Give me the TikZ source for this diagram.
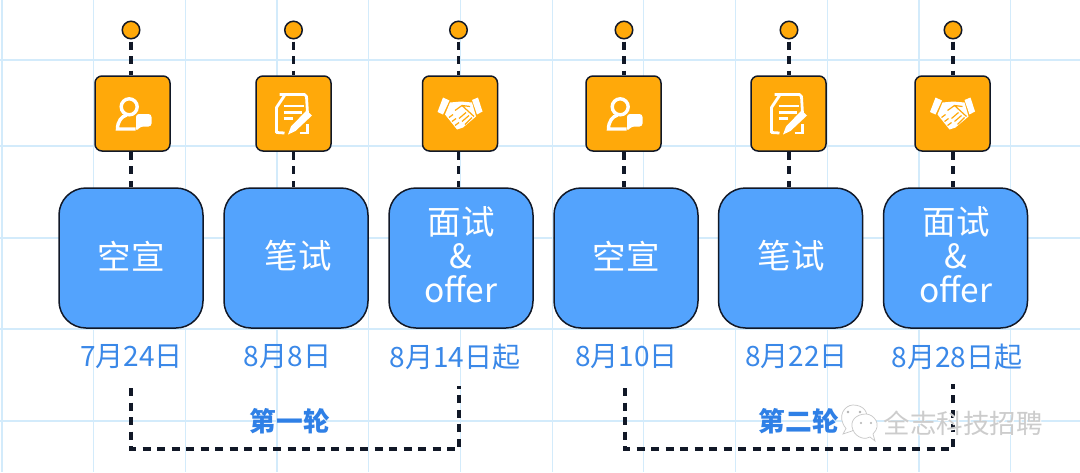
\documentclass[tikz,border=0pt]{standalone}
\usepackage{fontspec}
\setmainfont{Noto Sans CJK SC}
\definecolor{gridc}{HTML}{D3EBFB}
\definecolor{amber}{HTML}{FFA90A}
\definecolor{bluebox}{HTML}{53A3FD}
\definecolor{datec}{HTML}{3A88E8}
\definecolor{roundc}{HTML}{2F80E6}
\definecolor{inkc}{HTML}{111827}
\tikzset{
  gridline/.style={gridc,line width=1.1pt},
  dot/.style={circle,draw=inkc,fill=amber,line width=1.5pt,minimum size=17.5pt,inner sep=0pt},
  iconbox/.style={draw=inkc,fill=amber,line width=1.5pt,rounded corners=7pt,minimum size=75pt,inner sep=0pt},
  stagebox/.style={draw=inkc,fill=bluebox,line width=1.5pt,rounded corners=27pt,minimum width=144pt,minimum height=140pt,inner sep=0pt},
  stagetext/.style={text=white,font=\fontsize{33.5}{34}\selectfont,align=center,inner sep=0pt},
  datetext/.style={text=datec,font=\fontsize{28}{30}\selectfont,inner sep=0pt},
  roundtext/.style={text=roundc,font=\fontsize{26.7}{28}\selectfont\bfseries,inner sep=0pt},
  link/.style={inkc,line width=3.4pt,dash pattern=on 8pt off 6.5pt},
  ico/.style={draw=white,line width=3.4pt},
  pics/person/.style={code={
    \draw[ico] (-3.3,-6.7) circle (8);
    \draw[ico] (3,15.5) -- (-15,15.5) .. controls (-15,8) and (-11,3) .. (-6,1.5);
    \fill[white,rounded corners=3pt] (3.5,0.5) -- (19,0.5) -- (19,13) -- (8,13) -- (3.5,18) -- cycle;
  }},
  pics/docpen/.style={code={
    \draw[line width=2.8pt,white,line join=round] (-14,-19) -- (11,-19) -- (13,-17) -- (14,0);
    \draw[line width=2.8pt,white,line join=round] (-17,19) -- (-17,-6) -- (-9,-18);
    \draw[line width=2.8pt,white,line join=round] (-17,18) -- (-17,19) -- (-9,19.5);
    \draw[line width=2.8pt,white] (6,19.5) -- (14,19.5) -- (14,10);
    \draw[line width=2.4pt,white] (-10,-7.5) -- (10,-7.5) (-10,-1) -- (8,-1) (-10,5) -- (-1,5);
    \fill[white] (13,-3) -- (18.5,2) -- (2,17.5) -- (-5.5,21) -- (-2.5,13) -- cycle;
  }},
  pics/shake/.style={code={
    \fill[white] (-17,-16) -- (-10.5,-13) -- (-17,1) -- (-22.5,-1.5) -- cycle;
    \fill[white] (12,-13.5) -- (18,-16) -- (22.5,-2) -- (17,1) -- cycle;
    \fill[white] (-10,-11) -- (1,-12) -- (12,-11) -- (16,3) -- (3,14) -- (-3,16) -- (-15,1) -- cycle;
    \draw[amber,line width=1.2pt] (-5,-3) -- (2,-8) -- (10,-7) (2,-8) -- (14,3);
    \draw[amber,line width=1.2pt] (-1,5) -- (6,-1) (2,8) -- (9,2) (5,11) -- (12,4);
    \draw[amber,line width=1.2pt] (-11,4) -- (-7,1) (-8,8) -- (-4,5) (-5,12) -- (-1,9);
  }},
}
\begin{document}
\begin{tikzpicture}[x=1pt,y=-1pt]
\useasboundingbox (0,0) rectangle (1080,472);
\fill[white] (0,0) rectangle (1080,472);
\foreach \gx in {2,93.7,185.4,277,368.8,460.5,552.2,643.9,735.6,827.3,919,1010.7}
  \draw[gridline] (\gx,0) -- (\gx,472);
\foreach \gy in {60,146,238,329,421}
  \draw[gridline] (0,\gy) -- (1080,\gy);

\foreach \n/\cx/\ix/\bx in {1/131/132.5/131,2/293.5/293.5/296,3/458.5/460/461,4/624/623.5/626,5/789/788.5/790.5,6/953/952.5/955.5}{
  \node[stagebox] (b\n) at (\bx,258) {};
  \node[iconbox] (i\n) at (\ix,113.5) {};
  \node[dot] (c\n) at (\cx,30) {};
  \draw[link] ([yshift=-2pt]c\n.south) -- (c\n.south |- i\n.north);
  \draw[link] (c\n.south |- i\n.south) -- (c\n.south |- b\n.north);
}
\pic at (i1) {person};
\pic at (i4) {person};
\pic at (i2) {docpen};
\pic at (i5) {docpen};
\pic at (i3) {shake};
\pic at (i6) {shake};

\node[stagetext] (s1) at (131,256) {空宣};
\node[stagetext] (s2) at (298,256) {笔试};
\node[stagetext] (s3) at (461,254.5) {面试\\\&\\offer};
\node[stagetext] (s4) at (626,256) {空宣};
\node[stagetext] (s5) at (791,256) {笔试};
\node[stagetext] (s6) at (956,254.5) {面试\\\&\\offer};

\node[datetext] (d1) at (131.5,357) {7月24日};
\node[datetext] (d2) at (287.5,357) {8月8日};
\node[datetext] (d3) at (455,357) {8月14日起};
\node[datetext] (d4) at (626.5,357) {8月10日};
\node[datetext] (d5) at (796.5,357) {8月22日};
\node[datetext] (d6) at (957,357) {8月28日起};

\coordinate (a1) at (131,388);
\coordinate (a2) at (459,386);
\coordinate (a3) at (625,388);
\coordinate (a4) at (953,384);
\draw[link] (a1) -- (131,449) -- (459,449) -- (a2);
\draw[link] (a3) -- (625,449) -- (953,449) -- (a4);

\node[roundtext] (r1) at (290,421) {第一轮};
\node[roundtext] (r2) at (799,421) {第二轮};

% watermark
\begin{scope}[draw=black!22,line width=0.7pt]
  \draw[fill=white] (843,434) -- (846,428.5) .. controls (836,416) and (845,405) .. (853,405) .. controls (864,405) and (869,413) .. (866,420) -- (852,431) -- cycle;
  \fill[black!30] (848,412) circle (1.3) (860,412) circle (1.3);
  \draw[fill=white] (875,441) -- (873,434) .. controls (883,424) and (873,414) .. (866,414) .. controls (856,414) and (849,421) .. (853,430) .. controls (856,438) and (866,440) .. (870,437) -- cycle;
  \fill[black!30] (861,423) circle (1.2) (871,423) circle (1.2);
\end{scope}
\node[text=white,font=\fontsize{26.5}{28}\selectfont,inner sep=0pt] (w0) at (964,424) {全志科技招聘};
\node[text=black!20,font=\fontsize{26.5}{28}\selectfont,inner sep=0pt] (w1) at (963,423) {全志科技招聘};
\end{tikzpicture}
\end{document}
